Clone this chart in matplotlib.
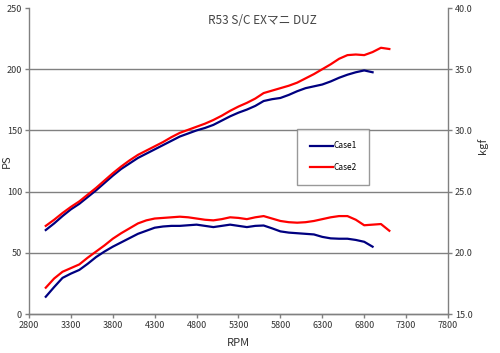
import matplotlib
matplotlib.use("Agg")
import matplotlib.pyplot as plt
import numpy as np

rpm1 = list(range(3000, 7000, 100))
rpm2 = list(range(3000, 7200, 100))

ps_case1 = [68.6, 74, 80, 85.5, 90, 95.5, 101, 107, 113, 118.5,
            123, 127.5, 131, 134.5, 138, 141.5, 145, 147.5, 150, 152,
            154.5, 158, 161.5, 164.5, 167, 170, 174, 175.5, 176.5, 179,
            182, 184.5, 186, 187.5, 190, 193, 195.5, 197.5, 199, 197.5]
ps_case2 = [72, 77, 82.5, 87.5, 92, 97.5, 103, 109, 115, 120.5,
            125.5, 130, 133.5, 137, 140.5, 144.5, 148, 150.5, 153, 155.5,
            158.5, 162, 166, 169.5, 172.5, 176, 180.5, 182.5, 184.5, 186.5,
            189, 192.5, 196, 200, 204, 208.5, 211.5, 212, 211.5, 214,
            217.5, 216.5]
kgf_case1 = [16.41, 17.2, 17.95, 18.3, 18.6, 19.1, 19.65, 20.1, 20.5, 20.85,
             21.2, 21.55, 21.8, 22.05, 22.15, 22.2, 22.2, 22.25, 22.3, 22.2,
             22.1, 22.2, 22.3, 22.2, 22.1, 22.2, 22.23, 22.0, 21.75, 21.65,
             21.6, 21.55, 21.5, 21.3, 21.18, 21.15, 21.15, 21.05, 20.9, 20.5]
kgf_case2 = [17.15, 17.9, 18.45, 18.75, 19.05, 19.6, 20.1, 20.6, 21.15, 21.6,
             22.0, 22.4, 22.65, 22.8, 22.85, 22.9, 22.95, 22.9, 22.8, 22.7,
             22.65, 22.75, 22.9, 22.85, 22.75, 22.9, 23.0, 22.8, 22.6, 22.5,
             22.46, 22.5, 22.6, 22.75, 22.9, 23.0, 23.0, 22.7, 22.25, 22.3,
             22.35, 21.8]

title = "R53 S/C EXマニ DUZ"
xticks = [2800, 3300, 3800, 4300, 4800, 5300, 5800, 6300, 6800, 7300, 7800]
ps_ticks = [0, 50, 100, 150, 200, 250]
kgf_ticks = [15.0, 20.0, 25.0, 30.0, 35.0, 40.0]

plt.rcParams['font.family'] = ['Noto Sans CJK JP', 'DejaVu Sans']

fig = plt.figure(figsize=(5.0, 3.53), dpi=100)
ax = fig.add_axes([29/500, 1 - 314/353, (448-29)/500, (314-8)/353])
ax2 = ax.twinx()

c1 = '#000080'
c2 = '#ff0000'
l1, = ax.plot(rpm1, ps_case1, color=c1, lw=1.6, label='Case1')
l2, = ax.plot(rpm2, ps_case2, color=c2, lw=1.6, label='Case2')
ax2.plot(rpm1, kgf_case1, color=c1, lw=1.6)
ax2.plot(rpm2, kgf_case2, color=c2, lw=1.6)

ax.set_xlim(2800, 7800)
ax.set_ylim(0, 250)
ax2.set_ylim(15, 40)
ax.set_xticks(xticks)
ax.set_yticks(ps_ticks)
ax2.set_yticks(kgf_ticks)
ax2.set_yticklabels([f"{v:.1f}" for v in kgf_ticks])

for y in [50, 100, 150, 200]:
    ax.axhline(y, color='#808080', lw=1, zorder=0)

gray = '#808080'
for a in (ax, ax2):
    a.spines['top'].set_visible(False)
    for s in a.spines.values():
        s.set_color(gray)
        s.set_linewidth(1)
    a.tick_params(labelsize=6.5, length=3, width=1, color=gray, labelcolor='#333333', pad=2)
ax2.spines['left'].set_visible(False)
ax.spines['right'].set_visible(False)

ax.set_xlabel('RPM', fontsize=8, color='#333333')
ax.xaxis.set_label_coords(0.5, -0.08)
ax.set_ylabel('PS', fontsize=8, color='#333333')
ax.yaxis.set_label_coords(-0.04, 0.5)
ax2.set_ylabel('kgf', fontsize=8, color='#333333')
ax2.yaxis.set_label_coords(1.07, 0.55)

ax.text(0.557, 0.96, title, transform=ax.transAxes, fontsize=8.5,
        color='#444444', ha='center', va='center')

leg = ax2.legend([l1, l2], ['Case1', 'Case2'], loc='upper left',
                 bbox_to_anchor=((297 - 29) / 419, (314 - 129) / 306),
                 fontsize=6, frameon=True, fancybox=False, handlelength=2.8,
                 handletextpad=0.1, labelspacing=1.5, borderpad=1.5,
                 borderaxespad=0, edgecolor=gray)
leg.get_frame().set_linewidth(1)

fig.savefig('out.png', dpi=100)
